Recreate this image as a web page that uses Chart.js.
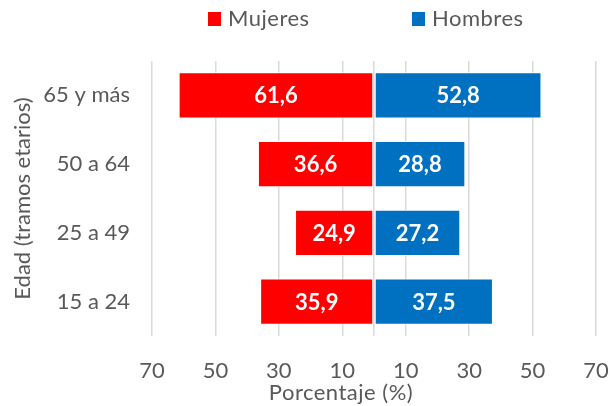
<!DOCTYPE html>
<html>
<head>
<meta charset="utf-8">
<script src="https://cdn.jsdelivr.net/npm/chart.js@4/dist/chart.umd.min.js"></script>
<style>
  html, body { margin: 0; padding: 0; background: #fff; overflow: hidden; }
  canvas { display: block; }
</style>
</head>
<body>
<canvas id="pyramid" width="610" height="406"></canvas>
<script>
// age groups, top to bottom
const ageGroups = ['65 y más', '50 a 64', '25 a 49', '15 a 24'];
const mujeres = [61.6, 36.6, 24.9, 35.9];
const hombres = [52.8, 28.8, 27.2, 37.5];
const seriesNames = ['Mujeres', 'Hombres'];
const seriesColors = ['#FF0000', '#0070C0'];
const axisMin = -70, axisMax = 70, axisStep = 20;

const FONT = 'Lato, Carlito, Calibri, sans-serif';
const GREY = '#595959';

// white value labels in the middle of each bar
const barLabels = {
  id: 'barLabels',
  afterDatasetsDraw(chart) {
    const ctx = chart.ctx;
    ctx.save();
    ctx.font = 'bold 22px ' + FONT;
    ctx.fillStyle = '#ffffff';
    ctx.textAlign = 'center';
    ctx.textBaseline = 'middle';
    chart.data.datasets.forEach((ds, i) => {
      chart.getDatasetMeta(i).data.forEach((bar, j) => {
        const p = bar.getCenterPoint();
        const v = Math.abs(ds.data[j]).toFixed(1).replace('.', ',');
        ctx.fillText(v, p.x, p.y + 1);
      });
    });
    ctx.restore();
  }
};

// legend + x title drawn like the excel ones (both sit a bit off the plot centre)
const extraText = {
  id: 'extraText',
  afterDraw(chart) {
    const ctx = chart.ctx;
    const area = chart.chartArea;
    const mid = (area.left + area.right) / 2;
    const legendX = [mid - 166, mid + 38];
    ctx.save();
    ctx.font = '22px ' + FONT;
    ctx.textBaseline = 'middle';
    ctx.letterSpacing = '0.5px';
    seriesNames.forEach((name, i) => {
      ctx.fillStyle = seriesColors[i];
      ctx.fillRect(legendX[i], 12, 13, 14);
      ctx.fillStyle = GREY;
      ctx.textAlign = 'left';
      ctx.fillText(name, legendX[i] + 20, 19);
    });
    ctx.textAlign = 'center';
    ctx.fillText('Porcentaje (%)', mid - 33, area.bottom + 57);
    ctx.restore();
  }
};

new Chart(document.getElementById('pyramid').getContext('2d'), {
  type: 'bar',
  data: {
    labels: ageGroups,
    datasets: [
      {
        label: seriesNames[0],
        data: mujeres.map(v => -v),
        backgroundColor: seriesColors[0],
        borderColor: '#ffffff',
        borderWidth: 1,
        borderSkipped: false
      },
      {
        label: seriesNames[1],
        data: hombres,
        backgroundColor: seriesColors[1],
        borderColor: '#ffffff',
        borderWidth: 1,
        borderSkipped: false
      }
    ]
  },
  options: {
    indexAxis: 'y',
    responsive: false,
    animation: false,
    layout: { padding: { top: 61, right: 14, bottom: 24, left: 12 } },
    datasets: { bar: { categoryPercentage: 1, barPercentage: 0.67 } },
    plugins: {
      legend: { display: false },
      tooltip: { enabled: false }
    },
    scales: {
      x: {
        stacked: true,
        min: axisMin,
        max: axisMax,
        afterBuildTicks(scale) {
          scale.ticks.push({ value: 0 });
          scale.ticks.sort((a, b) => a.value - b.value);
        },
        ticks: {
          stepSize: axisStep,
          padding: 0,
          color: GREY,
          font: { family: FONT, size: 22, lineHeight: 1 },
          maxRotation: 0,
          autoSkip: false,
          callback: v => (v === 0 ? '' : Math.abs(v))
        },
        // tick marks kept invisible, their length just pushes the labels down
        grid: { color: '#d9d9d9', lineWidth: 1.5, drawTicks: true, tickLength: 24, tickColor: 'rgba(0,0,0,0)' },
        border: { display: false }
      },
      y: {
        stacked: true,
        afterFit(scale) { scale.width = 140; },
        ticks: {
          padding: 22,
          color: GREY,
          font: { family: FONT, size: 22, lineHeight: 1 }
        },
        grid: { display: false, drawTicks: false },
        border: { display: false },
        title: {
          display: true,
          text: 'Edad (tramos etarios)',
          color: GREY,
          font: { family: FONT, size: 22, lineHeight: 1 },
          padding: 0
        }
      }
    }
  },
  plugins: [barLabels, extraText]
});
</script>
</body>
</html>
